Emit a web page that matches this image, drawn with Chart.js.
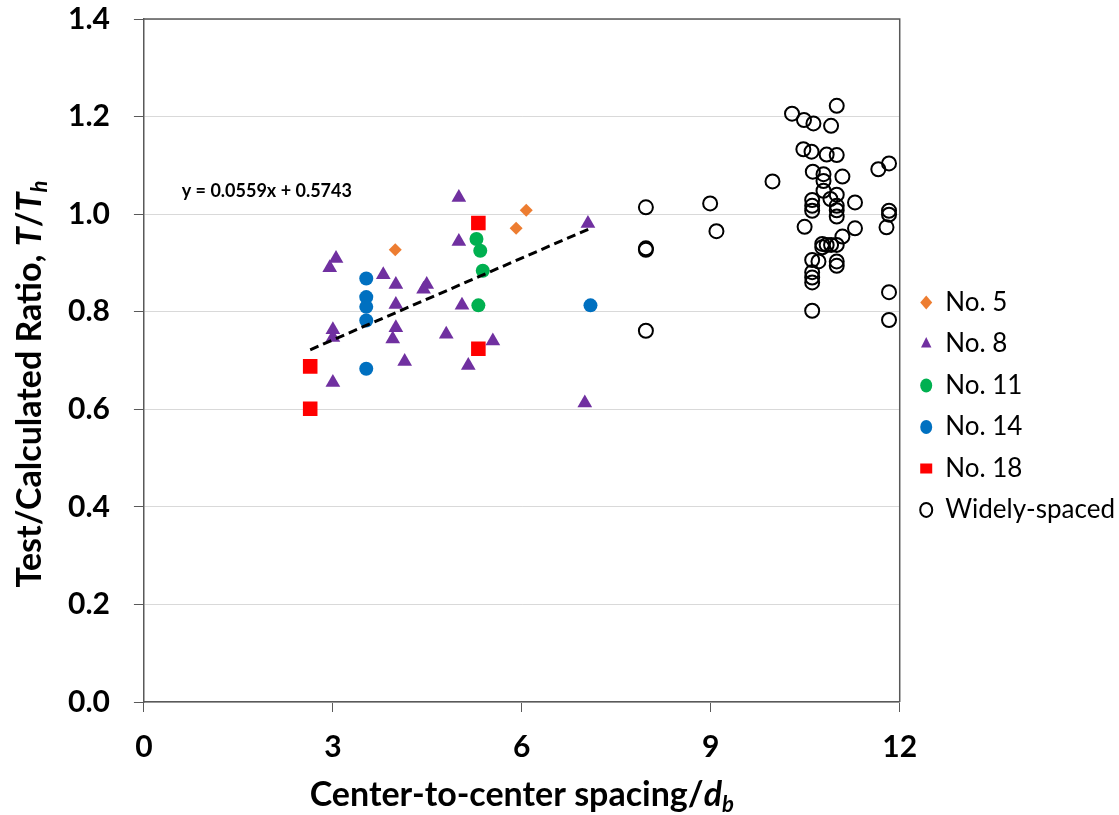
<!DOCTYPE html>
<html>
<head>
<meta charset="utf-8">
<script src="https://cdn.jsdelivr.net/npm/chart.js@4.4.1/dist/chart.umd.min.js"></script>
<style>
  body { margin: 0; background: #fff; }
  #wrap { width: 1119px; height: 815px; }
</style>
</head>
<body>
<div id="wrap"><canvas id="chart"></canvas></div>
<script>
// values
const no5X = [3.99, 5.91, 6.07];
const no5Y = [0.927, 0.971, 1.008];

const no8X = [3.05, 2.95, 3.00, 3.00, 3.00, 3.80, 4.00, 4.00, 4.00, 3.95, 4.14,
              4.44, 4.49, 4.80, 5.00, 5.00, 5.05, 5.15, 5.54, 7.05, 7.00];
const no8Y = [0.909, 0.890, 0.763, 0.747, 0.655, 0.876, 0.856, 0.815, 0.767, 0.744, 0.698,
              0.846, 0.856, 0.754, 1.034, 0.944, 0.813, 0.690, 0.740, 0.981, 0.613];

const no11X = [5.28, 5.34, 5.38, 5.31];
const no11Y = [0.949, 0.925, 0.884, 0.813];

const no14X = [3.53, 3.53, 3.53, 3.53, 3.53, 7.09];
const no14Y = [0.868, 0.830, 0.810, 0.782, 0.683, 0.813];

const no18X = [2.64, 2.64, 5.31, 5.31];
const no18Y = [0.688, 0.601, 0.982, 0.724];

const wideX = [7.97, 7.97, 7.97, 7.97, 8.99, 9.09, 9.98, 10.29, 10.48, 10.63,
               10.91, 11.00, 10.47, 10.60, 10.84, 11.00, 10.62, 10.79, 10.79, 11.09,
               10.79, 11.00, 10.90, 10.61, 10.61, 10.61, 11.00, 11.00, 11.00, 11.29,
               11.66, 11.83, 11.83, 11.83, 11.79, 10.49, 11.29, 11.09, 10.77, 10.84,
               10.91, 11.00, 10.77, 10.61, 10.71, 11.00, 11.00, 10.61, 10.61, 10.61,
               10.61, 11.83, 11.83];
const wideY = [1.014, 0.930, 0.927, 0.761, 1.022, 0.965, 1.067, 1.206, 1.193, 1.186,
               1.181, 1.222, 1.133, 1.128, 1.122, 1.121, 1.087, 1.082, 1.068, 1.077,
               1.048, 1.040, 1.031, 1.029, 1.017, 1.007, 1.017, 1.008, 0.995, 1.024,
               1.092, 1.104, 1.007, 0.999, 0.973, 0.974, 0.971, 0.954, 0.939, 0.937,
               0.937, 0.937, 0.932, 0.906, 0.903, 0.903, 0.894, 0.881, 0.870, 0.860,
               0.802, 0.840, 0.783];

// trend line end points (y = 0.0559x + 0.5743)
const trendX = [2.64, 7.09];
const trendY = [0.722, 0.971];
const trendLabel = "y = 0.0559x + 0.5743";

const xTicks = [0, 3, 6, 9, 12];
const yTicks = [0, 0.2, 0.4, 0.6, 0.8, 1.0, 1.2, 1.4];

const FONT = "Lato, 'Liberation Sans', sans-serif";
const AXIS = "#595959";

const pts = (xs, ys) => xs.map((x, i) => ({ x, y: ys[i] }));

// text made of runs in different styles (italic parts, subscripts)
function drawRuns(ctx, runs, size) {
  let w = 0;
  runs.forEach(r => {
    ctx.font = `${r.style} ${r.sub ? size * 0.65 : size}px ${FONT}`;
    w += ctx.measureText(r.text).width;
  });
  let x = -w / 2;
  runs.forEach(r => {
    ctx.font = `${r.style} ${r.sub ? size * 0.65 : size}px ${FONT}`;
    ctx.fillText(r.text, x, r.sub ? size * 0.28 : 0);
    x += ctx.measureText(r.text).width;
  });
}

const extras = {
  id: "extras",
  afterLayout(c) {
    // nudge the legend a bit away from the plot
    c.legend.left += 5;
    c.legend.right += 5;
  },
  afterDraw(c) {
    const { ctx, chartArea: a, scales } = c;
    ctx.save();
    ctx.strokeStyle = AXIS;
    ctx.lineWidth = 1.5;
    ctx.beginPath();
    ctx.moveTo(a.left, a.top);
    ctx.lineTo(a.right, a.top);
    ctx.lineTo(a.right, a.bottom);
    ctx.stroke();

    ctx.fillStyle = "#000";
    ctx.textBaseline = "middle";
    ctx.textAlign = "left";
    ctx.font = `bold 18px ${FONT}`;
    ctx.fillText(trendLabel, scales.x.getPixelForValue(0.6), scales.y.getPixelForValue(1.048));

    ctx.save();
    ctx.translate((a.left + a.right) / 2, 795);
    drawRuns(ctx, [
      { text: "Center-to-center spacing/", style: "bold" },
      { text: "d", style: "italic bold" },
      { text: "b", style: "italic bold", sub: true }
    ], 34);
    ctx.restore();

    ctx.save();
    ctx.translate(30, 384);
    ctx.rotate(-Math.PI / 2);
    drawRuns(ctx, [
      { text: "Test/Calculated Ratio, ", style: "bold" },
      { text: "T", style: "italic bold" },
      { text: "/", style: "bold" },
      { text: "T", style: "italic bold" },
      { text: "h", style: "italic bold", sub: true }
    ], 34);
    ctx.restore();
    ctx.restore();
  }
};

const marker = (label, xs, ys, style, color, r) => ({
  label, data: pts(xs, ys), pointStyle: style, pointRadius: r, pointHoverRadius: r,
  backgroundColor: color, borderColor: color, borderWidth: 0
});

new Chart(document.getElementById("chart"), {
  type: "scatter",
  data: {
    datasets: [
      {
        label: "trend", type: "line", data: pts(trendX, trendY),
        borderColor: "#000", borderWidth: 3, borderDash: [9, 5],
        pointRadius: 0, fill: false
      },
      marker("No. 5", no5X, no5Y, "rectRot", "#ED7D31", 6.5),
      marker("No. 8", no8X, no8Y, "triangle", "#7030A0", 8.5),
      marker("No. 11", no11X, no11Y, "circle", "#00B050", 7),
      marker("No. 14", no14X, no14Y, "circle", "#0070C0", 7),
      marker("No. 18", no18X, no18Y, "rect", "#FF0000", 10.3),
      {
        label: "Widely-spaced", data: pts(wideX, wideY), pointStyle: "circle",
        pointRadius: 7, backgroundColor: "rgba(0,0,0,0)", borderColor: "#000", borderWidth: 2
      }
    ]
  },
  options: {
    responsive: true,
    maintainAspectRatio: false,
    animation: false,
    layout: { padding: { left: 44, top: -16, right: -1, bottom: 33 } },
    scales: {
      x: {
        type: "linear", min: 0, max: 12,
        afterBuildTicks: s => { s.ticks = xTicks.map(v => ({ value: v })); },
        ticks: { padding: 17, color: "#000", font: { family: FONT, size: 30, weight: "bold" } },
        grid: { drawOnChartArea: false, tickLength: 10, tickColor: AXIS, color: AXIS },
        border: { color: AXIS, width: 1.5 }
      },
      y: {
        min: 0, max: 1.4,
        afterBuildTicks: s => { s.ticks = yTicks.map(v => ({ value: v })); },
        afterFit: s => { s.paddingTop = 19; },
        ticks: {
          padding: 24, color: "#000", font: { family: FONT, size: 30, weight: "bold" },
          callback: v => v.toFixed(1)
        },
        grid: { color: "#d9d9d9", tickLength: 10, tickColor: AXIS },
        border: { color: AXIS, width: 1.5 }
      }
    },
    plugins: {
      tooltip: { enabled: false },
      legend: {
        position: "right",
        title: { display: true, text: " ", font: { size: 22 }, padding: { top: 20, bottom: 0 } },
        labels: {
          usePointStyle: true, boxHeight: 10, pointStyleWidth: 12, padding: 15.5,
          color: "#000", font: { family: FONT, size: 26 },
          filter: item => item.text !== "trend"
        }
      }
    }
  },
  plugins: [extras]
});
</script>
</body>
</html>
